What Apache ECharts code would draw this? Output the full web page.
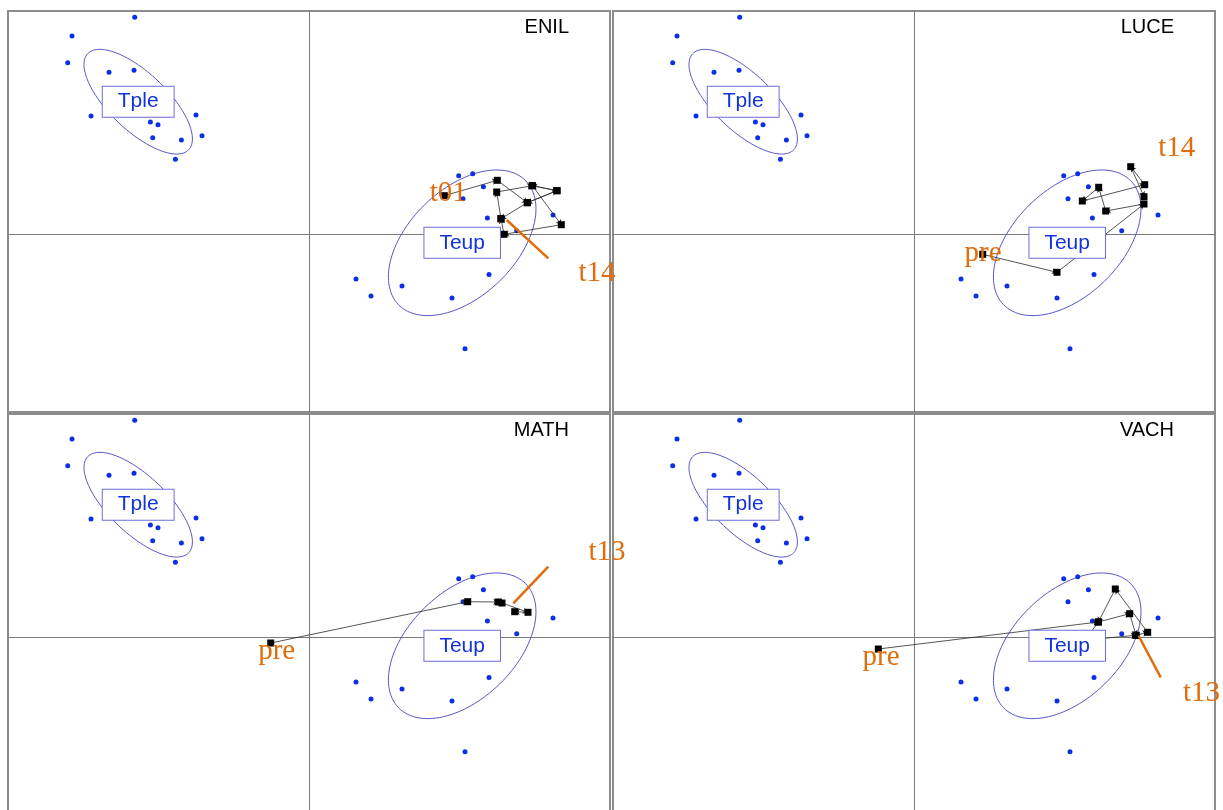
<!DOCTYPE html>
<html>
<head>
<meta charset="utf-8">
<script src="https://cdn.jsdelivr.net/npm/echarts@6/dist/echarts.min.js"></script>
<style>
html,body{margin:0;padding:0;background:#ffffff;}
#chart{width:1223px;height:810px;}
</style>
</head>
<body>
<div id="chart"></div>
<script>
// ---------- data ----------
const panelNames = ['ENIL', 'LUCE', 'MATH', 'VACH'];

// individuals of the two groups (same in every panel)
const tplePoints = [[-1.743,2.167],[-2.370,1.980],[-2.413,1.713],[-2.000,1.617],[-1.750,1.637],[-2.180,1.180],
  [-1.586,1.120],[-1.510,1.093],[-1.130,1.190],[-1.070,0.983],[-1.563,0.963],[-1.276,0.940],[-1.336,0.747]];
const teupPoints = [[1.497,0.583],[1.637,0.603],[1.744,0.473],[1.540,0.353],[1.784,0.160],[2.077,0.033],
  [2.440,0.190],[0.470,-0.450],[0.620,-0.620],[0.930,-0.520],[1.430,-0.640],[1.800,-0.404],[1.560,-1.147]];

// confidence ellipses: centre x, centre y, semi-major, semi-minor, angle (deg)
const tpleEllipse = [-1.708, 1.323, 0.697, 0.287, -43.6];
const teupEllipse = [1.532, -0.088, 0.888, 0.535, 44.2];
const groupLabels = ['Tple', 'Teup'];

// trajectories (successive supplementary points) per panel
const enilPath = [[1.353,0.383],[1.883,0.537],[2.183,0.313],[2.480,0.433],[2.233,0.483],[2.523,0.093],
  [1.950,-0.003],[1.920,0.153],[1.877,0.420],[2.233,0.483],[2.480,0.433],[2.183,0.313],[1.920,0.153]];
const lucePath = [[0.687,-0.203],[1.430,-0.383],[2.300,0.300],[1.917,0.230],[1.847,0.467],[1.683,0.330],
  [2.307,0.493],[2.167,0.673],[2.300,0.373]];
const mathPath = [[-0.383,-0.060],[1.587,0.353],[1.893,0.350],[1.930,0.340],[2.190,0.247],[2.057,0.253]];
const vachPath = [[-0.357,-0.120],[1.843,0.150],[2.157,0.233],[2.220,0.017],[2.337,0.047],[2.013,0.480],
  [1.843,0.150],[1.710,-0.030],[2.220,0.017]];
const paths = [enilPath, lucePath, mathPath, vachPath];

// orange annotations: text and anchor (data coords)
const enilLabels = [['t01', 1.393, 0.402], ['t14', 2.880, -0.395]];
const luceLabels = [['pre', 0.690, -0.190], ['t14', 2.627, 0.857]];
const mathLabels = [['pre', -0.323, -0.140], ['t13', 2.980, 0.845]];
const vachLabels = [['pre', -0.330, -0.205], ['t13', 2.875, -0.560]];
const orangeLabels = [enilLabels, luceLabels, mathLabels, vachLabels];

// orange pointer segments
const enilPointer = [[1.977, 0.140], [2.393, -0.243]];
const lucePointer = null;
const mathPointer = [[2.393, 0.703], [2.043, 0.337]];
const vachPointer = [[2.247, 0.010], [2.467, -0.403]];
const pointers = [enilPointer, lucePointer, mathPointer, vachPointer];

// axis extents
const xRange = [-3.01, 3.01];
const yRange = [-1.78, 2.23];

// ---------- layout / style ----------
const panelRects = [
  {left: 8, top: 11}, {left: 613, top: 11},
  {left: 8, top: 414}, {left: 613, top: 414}
];
const PW = 602, PH = 401;
const BLUE = '#0b2fe4';
const ELL = '#5656cc';
const ORANGE = '#e36c0a';

function renderEllipse(params, api) {
  const cx = api.value(0), cy = api.value(1), a = api.value(2), b = api.value(3);
  const ang = api.value(4) * Math.PI / 180;
  const pts = [];
  const n = 120;
  for (let k = 0; k <= n; k++) {
    const t = k / n * 2 * Math.PI;
    const ex = a * Math.cos(t), ey = b * Math.sin(t);
    pts.push(api.coord([cx + ex * Math.cos(ang) - ey * Math.sin(ang),
                        cy + ex * Math.sin(ang) + ey * Math.cos(ang)]));
  }
  return {type: 'polyline', shape: {points: pts}, style: {fill: null, stroke: ELL, lineWidth: 1}};
}

const grids = [], xAxes = [], yAxes = [], series = [], titles = [];
panelRects.forEach((r, i) => {
  grids.push({left: r.left, top: r.top, width: PW, height: PH, show: true, outerBoundsMode: 'none',
    containLabel: false, borderColor: '#8c8c8c', borderWidth: 2, backgroundColor: '#fff'});
  xAxes.push({gridIndex: i, type: 'value', min: xRange[0], max: xRange[1],
    axisLine: {show: true, onZero: true, lineStyle: {color: '#7a7a7a', width: 1}},
    axisTick: {show: false}, axisLabel: {show: false}, splitLine: {show: false}});
  yAxes.push({gridIndex: i, type: 'value', min: yRange[0], max: yRange[1],
    axisLine: {show: true, onZero: true, lineStyle: {color: '#7a7a7a', width: 1}},
    axisTick: {show: false}, axisLabel: {show: false}, splitLine: {show: false}});

  const ax = {xAxisIndex: i, yAxisIndex: i};
  series.push(Object.assign({type: 'custom', renderItem: renderEllipse, data: [tpleEllipse, teupEllipse], z: 2, silent: true}, ax));
  series.push(Object.assign({type: 'scatter', data: tplePoints.concat(teupPoints), symbol: 'circle', symbolSize: 5,
    itemStyle: {color: BLUE, opacity: 1}, z: 3, silent: true}, ax));

  const p = paths[i];
  const segs = [];
  for (let k = 1; k < p.length; k++) segs.push({coords: [p[k - 1], p[k]]});
  series.push(Object.assign({type: 'lines', coordinateSystem: 'cartesian2d', data: segs,
    symbol: ['none', 'arrow'], symbolSize: 5,
    lineStyle: {color: '#2a2a2a', width: 0.8, opacity: 1}, z: 4, silent: true}, ax));
  series.push(Object.assign({type: 'scatter', data: p, symbol: 'rect', symbolSize: 7,
    itemStyle: {color: '#000', opacity: 1}, z: 5, silent: true}, ax));

  series.push(Object.assign({type: 'scatter', z: 6, silent: true, symbol: 'circle', symbolSize: 1,
    itemStyle: {color: 'rgba(0,0,0,0)', opacity: 1},
    data: [{name: groupLabels[0], value: [tpleEllipse[0], tpleEllipse[1]]},
           {name: groupLabels[1], value: [teupEllipse[0], teupEllipse[1]]}],
    label: {show: true, position: 'inside', formatter: '{b}', fontFamily: 'Liberation Sans', fontSize: 21,
      color: '#1232da', backgroundColor: '#fff', borderColor: '#6e6ed8', borderWidth: 1, opacity: 1,
      padding: [5, 15, 4, 15]}}, ax));

  if (pointers[i]) {
    series.push(Object.assign({type: 'lines', coordinateSystem: 'cartesian2d', data: [{coords: pointers[i]}],
      lineStyle: {color: ORANGE, width: 2.5, opacity: 1}, z: 7, silent: true}, ax));
  }
  series.push(Object.assign({type: 'scatter', z: 8, silent: true, symbol: 'circle', symbolSize: 1,
    itemStyle: {color: 'rgba(0,0,0,0)', opacity: 1},
    data: orangeLabels[i].map(l => ({name: l[0], value: [l[1], l[2]]})),
    label: {show: true, position: 'inside', formatter: '{b}', fontFamily: 'Liberation Serif', fontSize: 29,
      color: ORANGE, opacity: 1}}, ax));

  titles.push({text: panelNames[i], right: (i % 2 === 0) ? 654 : 49, top: r.top + 6, padding: 0,
    textStyle: {fontFamily: 'Liberation Sans', fontSize: 20, fontWeight: 'normal', color: '#000'}});
});

const chart = echarts.init(document.getElementById('chart'), null, {renderer: 'canvas'});
chart.setOption({
  animation: false,
  backgroundColor: '#fff',
  title: titles,
  grid: grids,
  xAxis: xAxes,
  yAxis: yAxes,
  series: series
});
</script>
</body>
</html>
